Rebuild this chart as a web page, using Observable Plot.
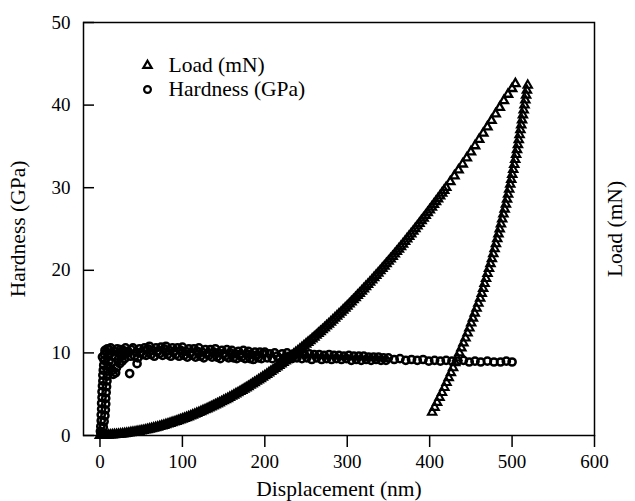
<!DOCTYPE html>
<html>
<head>
<meta charset="utf-8">
<script src="https://cdn.jsdelivr.net/npm/d3@7"></script>
<script src="https://cdn.jsdelivr.net/npm/@observablehq/plot@0.6"></script>
<style>
  body { margin: 0; background: #fff; }
</style>
</head>
<body>
<div id="chart"></div>
<script>
// Loading segment: displacement (nm) and load (mN)
const loadDisp = [0,2.5,5,7.5,10,12.5,15,17.5,20,22.5,25,27.5,30,32.5,35,37.5,40,42.5,45,47.5,50,52.5,55,57.5,60,62.5,65,67.5,70,72.5,75,77.5,80,82.5,85,87.5,90,92.5,95,97.5,100,102.5,105,107.5,110,112.5,115,117.5,120,122.5,125,127.5,130,132.5,135,137.5,140,142.5,145,147.5,150,152.5,155,157.5,160,162.5,165,167.5,170,172.5,175,177.5,180,182.5,185,187.5,190,192.5,195,197.5,200,202.5,205,207.5,210,212.5,215,217.5,220,222.5,225,227.5,230,232.5,235,237.5,240,242.5,245,247.5,250,252.5,255,257.5,260,262.5,265,267.5,270,272.5,275,277.5,280,282.5,285,287.5,290,292.5,295,297.5,300,302.5,305,307.5,310,312.5,315,317.5,320,322.5,325,327.5,330,332.5,335,337.5,340,342.5,345,347.5,350,352.5,355,357.5,360,362.5,365,367.5,370,372.5,375,377.5,380,382.5,385,387.5,390,392.5,395,397.5,400,402.5,405,407.5,410,412.5,415,417.5,420,425,430,435,440,445,450,455,460,465,470,475,480,485,490,495,500,504];
const loadVal = [0.00,0.01,0.02,0.03,0.05,0.06,0.08,0.10,0.12,0.14,0.17,0.20,0.23,0.26,0.30,0.34,0.38,0.42,0.46,0.50,0.55,0.60,0.66,0.71,0.77,0.83,0.89,0.95,1.02,1.09,1.16,1.23,1.31,1.39,1.47,1.55,1.63,1.71,1.80,1.89,1.98,2.07,2.17,2.26,2.36,2.46,2.57,2.67,2.78,2.89,3.00,3.11,3.22,3.34,3.46,3.58,3.70,3.82,3.95,4.08,4.21,4.34,4.47,4.61,4.75,4.89,5.03,5.17,5.32,5.47,5.62,5.77,5.92,6.08,6.24,6.40,6.56,6.72,6.89,7.06,7.23,7.40,7.57,7.75,7.93,8.11,8.29,8.47,8.66,8.85,9.04,9.23,9.42,9.62,9.82,10.02,10.22,10.42,10.63,10.84,11.05,11.26,11.47,11.69,11.91,12.13,12.35,12.57,12.80,13.03,13.26,13.49,13.72,13.96,14.20,14.44,14.68,14.92,15.17,15.42,15.67,15.92,16.17,16.43,16.69,16.95,17.21,17.47,17.74,18.01,18.28,18.55,18.82,19.10,19.38,19.66,19.94,20.22,20.51,20.80,21.09,21.38,21.67,21.97,22.27,22.57,22.87,23.17,23.48,23.79,24.10,24.41,24.72,25.04,25.36,25.68,26.00,26.32,26.65,26.98,27.31,27.64,27.97,28.31,28.65,28.99,29.33,29.67,30.02,30.72,31.42,32.14,32.86,33.59,34.33,35.07,35.83,36.59,37.36,38.14,38.93,39.72,40.53,41.30,42.00,42.60];

// Unloading segment
const unloadDisp = [519.0,518.0,517.0,516.1,515.1,514.1,513.1,512.1,511.1,510.1,509.1,508.1,507.1,506.0,504.9,503.8,502.6,501.4,500.2,499.0,497.8,496.5,495.2,493.9,492.5,491.0,489.5,488.0,486.5,485.0,483.5,482.0,480.4,478.8,477.2,475.5,473.8,472.0,470.2,468.4,466.6,464.9,463.2,461.3,459.1,456.9,454.7,452.5,450.4,448.2,446.0,443.5,441.0,438.5,436.0,433.5,431.0,428.4,425.8,423.1,420.5,417.9,415.0,412.0,409.0,406.0,403.0];
const unloadVal = [42.4,41.8,41.2,40.6,40.0,39.4,38.8,38.2,37.6,37.0,36.4,35.8,35.2,34.6,34.0,33.4,32.8,32.2,31.6,31.0,30.4,29.8,29.2,28.6,28.0,27.4,26.8,26.2,25.6,25.0,24.4,23.8,23.2,22.6,22.0,21.4,20.8,20.2,19.6,19.0,18.4,17.8,17.2,16.6,16.0,15.4,14.8,14.2,13.6,13.0,12.4,11.8,11.2,10.6,10.0,9.4,8.8,8.2,7.6,7.0,6.4,5.8,5.2,4.6,4.0,3.4,2.8];

// Hardness: displacement (nm) and hardness (GPa)
const hardDisp = [0.5,1,1.5,1.5,2,2,2.5,2.5,3,3.5,3.5,4,4.5,5,3,5.5,6,1,4,5,6,6.5,7,7,7.5,8,8.5,9,9.5,10,11,8,9,10,11,12,13,14,15,16,17,18,19,20,21,22,23,24,25,26,27,28,29,30,31,32,34,36,37,38,45,
  40,42,44,46,48,50,52,54,56,58,60,62,64,66,68,70,72,74,76,78,80,82,84,86,88,90,92,94,96,98,100,102,104,106,108,110,112,114,116,118,120,122,124,126,128,130,132,134,136,138,140,142,144,146,148,150,152,154,156,158,160,162,164,166,168,170,172,174,176,178,180,182,184,186,188,190,192,194,196,198,200,
  203,206,209,212,215,218,221,224,227,230,233,236,239,242,245,248,251,254,257,260,263,266,269,272,275,278,281,284,287,290,293,296,299,302,305,308,311,314,317,320,323,326,329,332,335,338,341,344,347,350,
  357,364,371,378,385,392,399,406,413,420,427,434,441,448,455,462,470,478,486,493,500];
const hardVal = [0.5,1.1,1.8,2.5,3.2,3.9,4.6,5.3,6.0,6.6,7.3,7.9,8.5,9.1,9.5,9.8,10.3,0.3,1.0,1.7,2.4,3.1,3.8,4.5,5.2,5.9,6.6,7.2,7.8,8.4,9.0,10.1,10.5,9.7,10.4,9.9,10.6,8.8,7.9,7.4,10.2,9.6,7.6,8.2,10.5,9.2,10.0,8.7,10.4,9.6,9.0,10.3,9.8,9.3,10.6,9.9,10.2,7.5,9.6,10.4,8.7,
  10.6,9.6,10.1,9.4,10.5,10.1,9.8,10.6,9.7,10.5,10.8,9.8,10.3,9.6,10.6,10.2,9.9,10.7,9.7,10.5,10.8,9.8,10.3,9.6,10.6,10.2,9.8,10.6,9.6,10.3,10.7,9.7,10.2,9.5,10.5,10.0,9.7,10.5,9.5,10.2,10.6,9.6,10.1,9.4,10.4,9.9,9.7,10.4,9.5,10.1,10.5,9.5,10.0,9.3,10.3,9.9,9.6,10.4,9.4,10.0,10.3,9.4,9.9,9.3,10.2,9.8,9.5,10.3,9.3,9.9,10.2,9.3,9.8,9.2,10.1,9.7,9.4,10.1,9.3,9.9,10.1,
  9.4,9.9,9.3,10.0,9.6,9.3,9.9,9.4,10.0,9.6,9.3,9.9,9.4,9.9,9.3,9.8,9.4,9.9,9.2,9.8,9.4,9.8,9.2,9.7,9.3,9.8,9.2,9.7,9.3,9.7,9.2,9.6,9.3,9.7,9.1,9.6,9.2,9.6,9.1,9.6,9.2,9.5,9.1,9.5,9.2,9.5,9.1,9.4,9.1,9.4,
  9.2,9.3,9.1,9.2,9.1,9.2,9.0,9.1,9.0,9.1,9.0,9.0,9.1,8.9,9.0,8.9,9.0,8.9,8.9,9.0,8.9];

const xTicks = [0,100,200,300,400,500,600];
const yTicks = [0,10,20,30,40,50];
const xLabel = "Displacement (nm)";
const yLabel = "Hardness (GPa)";
const yRightLabel = "Load (mN)";
const legendLabels = ["Load (mN)", "Hardness (GPa)"];

const loading = loadDisp.map((d, i) => ({x: d, y: loadVal[i]}));
const unloading = unloadDisp.map((d, i) => ({x: d, y: unloadVal[i]}));
const hardness = hardDisp.map((d, i) => ({x: d, y: hardVal[i]}));

const triR = 3.1, circR = 3.6;

const chart = Plot.plot({
  width: 635,
  height: 501,
  marginTop: 22,
  marginBottom: 66,
  marginLeft: 83,
  marginRight: 41,
  style: {fontFamily: "'Liberation Serif', 'Times New Roman', serif", fontSize: "19px", color: "black", background: "white", overflow: "visible"},
  x: {domain: [-20, 600]},
  y: {domain: [0, 50]},
  marks: [
    Plot.axisX({ticks: xTicks, tickSize: 12, tickPadding: 7, strokeWidth: 1.5, fontSize: 19, label: xLabel, labelAnchor: "center", labelArrow: "none", labelOffset: 60}),
    Plot.axisY({ticks: yTicks, tickSize: -11, tickPadding: 24, strokeWidth: 1.5, fontSize: 19, label: null}),
    Plot.text([yLabel], {frameAnchor: "left", dx: -65, rotate: -90, fontSize: 21.5, textAnchor: "middle", lineAnchor: "middle"}),
    Plot.dot(hardness, {x: "x", y: "y", r: circR, stroke: "black", strokeWidth: 2.5, fill: "none"}),
    Plot.dot(loading, {x: "x", y: "y", symbol: "triangle", r: triR, stroke: "black", strokeWidth: 2.3, fill: "none"}),
    Plot.dot(unloading, {x: "x", y: "y", symbol: "triangle", r: triR, stroke: "black", strokeWidth: 2.1, fill: "none"}),
    Plot.frame({stroke: "black", strokeWidth: 1.5}),
    Plot.text([yRightLabel], {frameAnchor: "right", dx: 21, rotate: -90, fontSize: 21.5, textAnchor: "middle", lineAnchor: "middle"}),
    Plot.dot([legendLabels[0]], {frameAnchor: "top-left", dx: 64, dy: 43, symbol: "triangle", r: triR, stroke: "black", strokeWidth: 2.2, fill: "none"}),
    Plot.dot([legendLabels[1]], {frameAnchor: "top-left", dx: 64, dy: 67, r: 3.4, stroke: "black", strokeWidth: 2.2, fill: "none"}),
    Plot.text([legendLabels[0]], {frameAnchor: "top-left", dx: 85, dy: 43, text: d => d, textAnchor: "start", lineAnchor: "middle", fontSize: 21.5}),
    Plot.text([legendLabels[1]], {frameAnchor: "top-left", dx: 85, dy: 67, text: d => d, textAnchor: "start", lineAnchor: "middle", fontSize: 21.5})
  ]
});
chart.querySelectorAll("[aria-label='x-axis label'] text").forEach(t => t.setAttribute("font-size", "21.5"));
document.getElementById("chart").appendChild(chart);
</script>
</body>
</html>
